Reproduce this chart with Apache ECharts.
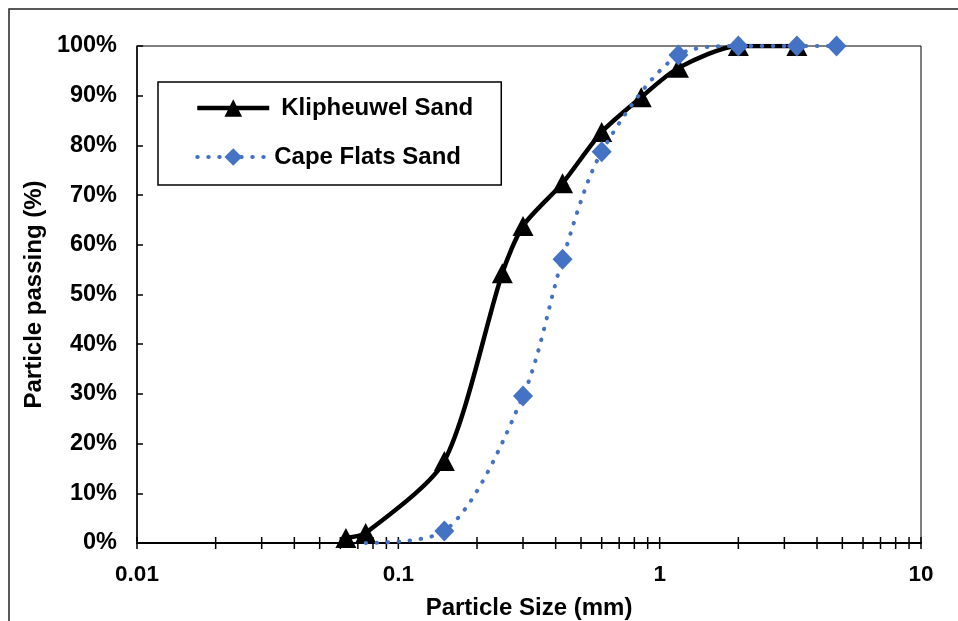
<!DOCTYPE html>
<html>
<head>
<meta charset="utf-8">
<script src="https://cdn.jsdelivr.net/npm/echarts@6/dist/echarts.min.js"></script>
<style>
  html, body { margin: 0; padding: 0; background: #fff; }
  #chart { width: 958px; height: 621px; }
</style>
</head>
<body>
<div id="chart"></div>
<script>
// particle size (mm) and percent passing
const klipSizes = [0.063, 0.075, 0.15, 0.25, 0.3, 0.425, 0.6, 0.85, 1.18, 2.0, 3.35];
const klipPassing = [1, 2, 16.5, 54.3, 63.8, 72.4, 82.7, 89.7, 95.6, 100, 100];
const capeSizes = [0.075, 0.15, 0.3, 0.425, 0.6, 1.18, 2.0, 3.35, 4.75];
const capePassing = [0, 2.4, 29.6, 57.1, 78.7, 98.2, 100, 100, 100];
// log axis ticks (major + minor)
const xTicks = [0.01, 0.02, 0.03, 0.04, 0.05, 0.06, 0.07, 0.08, 0.09,
  0.1, 0.2, 0.3, 0.4, 0.5, 0.6, 0.7, 0.8, 0.9,
  1, 2, 3, 4, 5, 6, 7, 8, 9, 10];

const FONT = 'Liberation Sans, Arial, sans-serif';
const BLUE = '#4472C4';
const KLIP_LINE = { color: '#000', width: 4.5 };
const CAPE_LINE = { color: BLUE, width: 4, type: [0.5, 10.5], cap: 'round' };

let chart = echarts.init(document.getElementById('chart'));

let capeData = capeSizes.map((s, i) => {
  let item = { value: [s, capePassing[i]] };
  // first point's marker is not shown in the original
  if (i === 0) item.symbol = 'none';
  return item;
});

chart.setOption({
  backgroundColor: '#fff',
  animation: false,
  graphic: [{
    type: 'rect',
    shape: { x: 9, y: 9, width: 1200, height: 900 },
    style: { fill: 'none', stroke: '#222', lineWidth: 1.5 },
    silent: true
  }],
  grid: {
    left: 137, right: 37, top: 46, bottom: 78,
    outerBoundsMode: 'none', containLabel: false,
    show: true, borderColor: '#000', borderWidth: 1
  },
  legend: {
    orient: 'vertical',
    left: 158, top: 82,
    padding: [14, 28, 16, 37],
    itemWidth: 72, itemHeight: 22, itemGap: 25,
    borderColor: '#000', borderWidth: 1.5,
    data: [
      { name: 'Klipheuwel Sand', lineStyle: KLIP_LINE, textStyle: { padding: [0, 0, 0, 7] } },
      { name: 'Cape Flats Sand', lineStyle: CAPE_LINE }
    ],
    textStyle: { fontFamily: FONT, fontWeight: 'bold', fontSize: 24, lineHeight: 24, color: '#000' }
  },
  xAxis: {
    type: 'log', logBase: 10, min: 0.01, max: 10,
    name: 'Particle Size (mm)', nameLocation: 'middle', nameGap: 53,
    nameTextStyle: { fontFamily: FONT, fontWeight: 'bold', fontSize: 24, color: '#000' },
    axisLine: { lineStyle: { color: '#000', width: 2 } },
    axisTick: { show: false },
    splitLine: { show: false },
    axisLabel: {
      margin: 20, color: '#000', fontFamily: FONT, fontWeight: 'bold', fontSize: 22.5,
      formatter: v => String(parseFloat(v.toPrecision(2)))
    }
  },
  yAxis: {
    type: 'value', min: 0, max: 100, interval: 10,
    name: 'Particle passing (%)', nameLocation: 'middle', nameGap: 90,
    nameTextStyle: { fontFamily: FONT, fontWeight: 'bold', fontSize: 24, color: '#000' },
    axisLine: { show: true, lineStyle: { color: '#000', width: 1.5 } },
    axisTick: { show: true, inside: true, length: 6, lineStyle: { color: '#000', width: 1.5 } },
    splitLine: { show: false },
    axisLabel: {
      margin: 20, color: '#000', fontFamily: FONT, fontWeight: 'bold', fontSize: 23.5,
      formatter: '{value}%'
    }
  },
  series: [
    {
      type: 'custom',
      name: 'ticks',
      silent: true,
      data: xTicks.map(v => [v, 0]),
      encode: { x: 0, y: 1 },
      renderItem: function (params, api) {
        let p = api.coord([api.value(0), 0]);
        return {
          type: 'line',
          shape: { x1: p[0], y1: p[1] - 6, x2: p[0], y2: p[1] + 6 },
          style: { stroke: '#000', lineWidth: 1.5 }
        };
      },
      z: 1
    },
    {
      name: 'Klipheuwel Sand',
      type: 'line',
      smooth: 0.25,
      data: klipSizes.map((s, i) => [s, klipPassing[i]]),
      symbol: 'triangle',
      symbolSize: [21, 20],
      lineStyle: KLIP_LINE,
      itemStyle: { color: '#000' },
      z: 3
    },
    {
      name: 'Cape Flats Sand',
      type: 'line',
      smooth: 0.3,
      data: capeData,
      symbol: 'diamond',
      symbolSize: [20, 21],
      lineStyle: CAPE_LINE,
      itemStyle: { color: BLUE },
      z: 4
    }
  ]
});

window.onresize = function () {
  chart.resize();
};
</script>
</body>
</html>
